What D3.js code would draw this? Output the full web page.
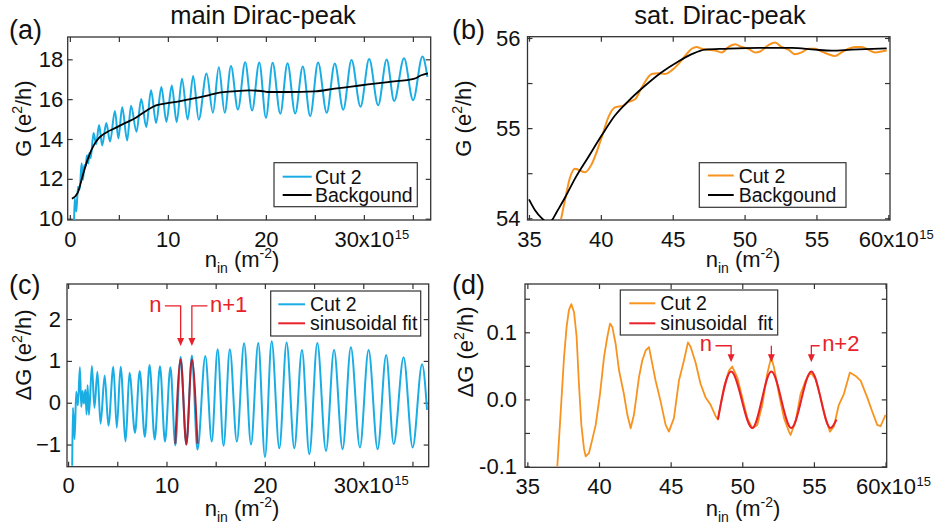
<!DOCTYPE html>
<html>
<head>
<meta charset="utf-8">
<script src="https://cdn.jsdelivr.net/npm/d3@7"></script>
<style>
  body { margin: 0; background: #fff; }
  svg { font-family: 'Liberation Sans', Arial, sans-serif; }
</style>
</head>
<body>
<svg id="fig" width="937" height="529"></svg>
<script>
// ---- data (n in units of 1e15 m^-2) ----

// main Dirac peak, cut 2: extrema of the oscillation
const cutN = [0.42, 0.49, 0.66, 0.83, 1.0, 1.2, 1.34, 1.47, 1.61, 1.75, 1.88, 1.98, 2.12, 2.42, 2.68, 2.98,
  3.3, 3.72, 4.1, 4.6, 4.95, 5.34, 5.85, 6.24, 6.8, 7.28, 7.8, 8.28, 8.8, 9.34, 9.85, 10.4, 10.9, 11.44,
  12.02, 12.58, 13.15, 13.95, 14.6, 15.2, 15.8, 16.44, 17.15, 17.89, 18.59, 19.33, 20.01, 20.69, 21.47,
  22.21, 22.99, 23.77, 24.52, 25.33, 26.21, 27.03, 27.9, 28.74, 29.66, 30.54, 31.46, 32.33, 33.09, 34.1,
  35.02, 35.98, 36.48];
const cutA_G = [9.6, 11.03, 10.36, 11.61, 11.45, 12.78, 11.95, 12.69, 12.62, 13.18, 12.77, 13.3, 13.03,
  14.3, 13.74, 14.7, 13.68, 14.8, 13.87, 15.41, 14.03, 15.59, 13.93, 15.67, 14.37, 16.01, 14.6, 16.45,
  14.81, 16.61, 14.86, 16.68, 14.85, 17.02, 14.98, 17.16, 14.97, 17.29, 15.32, 17.6, 15.32, 17.66, 15.48,
  17.85, 15.43, 17.84, 15.07, 17.83, 15.27, 17.8, 15.28, 17.64, 15.15, 17.84, 15.32, 17.79, 15.47, 17.96,
  15.62, 18.01, 15.69, 17.99, 15.91, 18.05, 15.95, 18.14, 17.12];
const cutC_dG = [-1.51, -0.12, -0.87, 0.26, -0.06, 0.85, -0.1, 0.28, -0.02, 0.31, -0.28, 0.42, -0.29,
  0.88, -0.12, 0.74, -0.5, 0.65, -0.55, 0.86, -0.6, 0.86, -0.92, 0.72, -0.72, 0.76, -0.82, 0.9, -0.88,
  0.87, -0.93, 0.85, -1.02, 1.1, -1.0, 1.13, -1.12, 1.12, -0.93, 1.28, -1.03, 1.28, -0.93, 1.42, -1.0,
  1.43, -1.3, 1.47, -1.09, 1.44, -1.09, 1.26, -1.23, 1.43, -1.15, 1.26, -1.11, 1.33, -1.07, 1.26, -1.11,
  1.14, -0.99, 1.09, -1.07, 0.92, -0.17];

const bgA_N = [0.21, 0.8, 1.3, 1.82, 2.49, 3.0, 3.68, 4.7, 5.72, 6.74, 7.77, 8.79, 9.81, 11.16, 12.53,
  13.89, 15.25, 16.61, 18.3, 19.53, 20.21, 22.26, 24.98, 27.02, 28.72, 30.42, 32.46, 35.18, 35.86, 36.54];
const bgA_G = [11.0, 11.3, 12.14, 12.98, 13.73, 14.07, 14.32, 14.57, 14.82, 15.07, 15.41, 15.69, 15.79,
  15.89, 16.03, 16.16, 16.33, 16.39, 16.44, 16.41, 16.36, 16.36, 16.39, 16.53, 16.63, 16.74, 16.86,
  17.03, 17.2, 17.3];

const fitC_N = [10.9, 11.44, 12.02, 12.58, 13.15];
const fitC_dG = [-0.98, 1.04, -1.0, 1.04, -0.98];
const peaksC = [11.44, 12.58];
const peakLabelsC = ['n', 'n+1'];

// satellite Dirac peak, cut 2
const cutB_N = [37.23, 37.5, 37.85, 38.2, 38.55, 38.9, 39.36, 40.06, 40.52, 40.98, 41.56, 41.91, 42.38,
  42.84, 43.54, 44.0, 44.46, 44.93, 45.39, 45.86, 46.32, 46.67, 47.0, 47.48, 47.94, 48.41, 48.87, 49.34,
  49.8, 50.27, 50.73, 51.08, 51.66, 52.12, 52.58, 53.05, 53.51, 53.97, 54.43, 54.9, 55.36, 55.83, 56.29,
  56.75, 57.22, 57.68, 58.15, 58.61, 59.07, 59.54, 59.89];
const cutB_G = [53.99, 54.2, 54.45, 54.55, 54.53, 54.51, 54.6, 54.9, 55.12, 55.23, 55.25, 55.29, 55.32,
  55.45, 55.6, 55.61, 55.6, 55.64, 55.71, 55.8, 55.88, 55.9, 55.88, 55.87, 55.86, 55.84, 55.9, 55.93,
  55.9, 55.88, 55.84, 55.85, 55.92, 55.95, 55.9, 55.87, 55.82, 55.84, 55.88, 55.88, 55.85, 55.82, 55.8,
  55.84, 55.88, 55.9, 55.9, 55.87, 55.84, 55.85, 55.86];

const bgB_N = [35.0, 35.42, 35.9, 36.3, 36.6, 36.93, 37.51, 38.2, 39.13, 40.06, 40.98, 41.91, 43.07,
  44.23, 45.39, 46.32, 47.25, 48.64, 50.97, 53.28, 54.9, 56.06, 57.45, 59.89];
const bgB_G = [54.21, 54.09, 54.0, 53.95, 53.98, 54.07, 54.23, 54.44, 54.68, 54.92, 55.14, 55.3, 55.47,
  55.62, 55.74, 55.82, 55.87, 55.88, 55.89, 55.89, 55.87, 55.86, 55.87, 55.885];

const cutD_N = [37.09, 37.33, 37.56, 37.74, 37.9, 38.07, 38.26, 38.44, 38.6, 38.77, 38.95, 39.07, 39.3,
  39.53, 39.77, 40.07, 40.35, 40.58, 40.77, 40.93, 41.16, 41.4, 41.74, 41.98, 42.21, 42.44, 42.79, 43.02,
  43.26, 43.49, 43.72, 43.95, 44.3, 44.65, 44.88, 45.23, 45.58, 45.93, 46.21, 46.4, 46.74, 47.09, 47.44,
  47.79, 48.14, 48.3, 48.72, 49.07, 49.3, 49.65, 50.0, 50.35, 50.7, 51.05, 51.4, 51.74, 52.02, 52.21,
  52.56, 52.91, 53.26, 53.37, 53.72, 54.07, 54.42, 54.77, 55.12, 55.47, 55.81, 56.12, 56.4, 56.74, 57.09,
  57.51, 57.91, 58.26, 58.72, 59.07, 59.42, 59.65, 60.0];
const cutD_dG = [-0.1, -0.018, 0.063, 0.108, 0.133, 0.142, 0.13, 0.093, 0.023, -0.038, -0.073, -0.085,
  -0.08, -0.06, -0.038, 0.008, 0.063, 0.093, 0.113, 0.108, 0.083, 0.043, 0.008, -0.023, -0.043, -0.023,
  0.033, 0.058, 0.073, 0.078, 0.053, 0.028, -0.003, -0.038, -0.048, -0.028, 0.028, 0.058, 0.085, 0.078,
  0.055, 0.023, 0.003, -0.008, -0.025, -0.03, 0.018, 0.043, 0.049, 0.033, 0.003, -0.028, -0.043, -0.038,
  -0.008, 0.038, 0.063, 0.048, 0.008, -0.028, -0.048, -0.053, -0.033, 0.008, 0.028, 0.04, 0.03, 0.003,
  -0.028, -0.048, -0.04, -0.008, 0.008, 0.04, 0.035, 0.028, 0.003, -0.018, -0.038, -0.04, -0.023];

const fitD_N = [48.3, 49.22, 50.7, 52.03, 53.42, 54.82, 56.16, 56.58];
const fitD_dG = [-0.03, 0.0415, -0.0425, 0.0415, -0.0425, 0.0415, -0.0425, -0.03];
const peaksD = [49.22, 52.03, 54.82];
const peakLabelsD = ['n', '', 'n+2'];

// ticks
const xTicksMain = [0, 5, 10, 15, 20, 25, 30, 35];
const xLabelsMain = {0: '0', 10: '10', 20: '20', 30: '30x10'};
const xTicksSat = [35, 40, 45, 50, 55, 60];
const xLabelsSat = {35: '35', 40: '40', 45: '45', 50: '50', 55: '55', 60: '60x10'};
const tickExponent = '15';
const yTicksA = [10, 12, 14, 16, 18];
const yTicksB = [54, 54.5, 55, 55.5, 56];
const yLabelsB = {54: '54', 55: '55', 56: '56'};
const yTicksC = [-1, 0, 1, 2];
const yTicksD = [-0.1, -0.05, 0, 0.05, 0.1, 0.15];
const yLabelsD = {'-0.1': '-0.1', '0': '0.0', '0.1': '0.1'};

// ---- drawing ----
const CYAN = '#1aade4';
const ORANGE = '#f7931e';
const RED = '#e8212a';
const DARKRED = '#b3202f';
const INK = '#111';
const FRAME = '#333';

const svg = d3.select('#fig');

function translate(x, y) {
  return `translate(${x},${y})`;
}

function lookup(map) {
  return d => {
    const key = String(+d.toFixed(3));
    return map[key] !== undefined ? map[key] : '';
  };
}

function makePanel(p) {
  const x = d3.scaleLinear().domain(p.xDomain).range([p.left, p.right]);
  const y = d3.scaleLinear().domain(p.yDomain).range([p.bottom, p.top]);
  const g = svg.append('g');

  svg.append('clipPath').attr('id', 'clip-' + p.id)
    .append('rect')
    .attr('x', p.left).attr('y', p.top)
    .attr('width', p.right - p.left).attr('height', p.bottom - p.top);

  // axes, ticks pointing inside on all four sides
  const xb = g.append('g').attr('transform', translate(0, p.bottom))
    .call(d3.axisBottom(x).tickValues(p.xTicks).tickSize(-5).tickFormat(lookup(p.xLabels)));
  const xt = g.append('g').attr('transform', translate(0, p.top))
    .call(d3.axisTop(x).tickValues(p.xTicks).tickSize(-5).tickFormat(''));
  const yl = g.append('g').attr('transform', translate(p.left, 0))
    .call(d3.axisLeft(y).tickValues(p.yTicks).tickSize(-5).tickPadding(p.yPad)
      .tickFormat(p.yLabels ? lookup(p.yLabels) : d3.format('d')));
  const yr = g.append('g').attr('transform', translate(p.right, 0))
    .call(d3.axisRight(y).tickValues(p.yTicks).tickSize(-5).tickFormat(''));

  for (const ax of [xb, xt, yl, yr]) {
    ax.select('.domain').remove();
    ax.selectAll('.tick line').attr('stroke', FRAME).attr('stroke-width', 1.2);
    ax.selectAll('text').attr('font-size', 22).attr('fill', INK).attr('font-family', null);
  }
  xb.selectAll('text').attr('y', 26.5).attr('dy', null);

  // exponent on the last labelled x tick, hung to the right of the centred "x10"
  xb.selectAll('.tick').each(function() {
    const t = d3.select(this).select('text');
    if (t.text().endsWith('x10')) {
      const w = t.node().getComputedTextLength();
      d3.select(this).append('text')
        .attr('x', w / 2 + 0.5).attr('y', 18.5)
        .attr('text-anchor', 'start')
        .attr('font-size', 13).attr('fill', INK)
        .text(tickExponent);
    }
  });

  g.append('rect')
    .attr('x', p.left).attr('y', p.top)
    .attr('width', p.right - p.left).attr('height', p.bottom - p.top)
    .attr('fill', 'none').attr('stroke', FRAME).attr('stroke-width', 1.3);

  const plot = g.append('g').attr('clip-path', `url(#clip-${p.id})`);
  for (const s of p.series) {
    const line = d3.line()
      .x(d => x(d[0]))
      .y(d => y(d[1]))
      .curve(s.curve || d3.curveLinear);
    plot.append('path')
      .datum(d3.zip(s.n, s.v))
      .attr('fill', 'none')
      .attr('stroke', s.color)
      .attr('stroke-width', s.width)
      .attr('stroke-linejoin', 'round')
      .attr('d', line);
  }

  // axis titles
  const xt2 = g.append('text')
    .attr('x', p.xTitleX).attr('y', p.xTitleY)
    .attr('text-anchor', 'middle').attr('font-size', 22).attr('fill', INK);
  xt2.append('tspan').text('n');
  xt2.append('tspan').attr('font-size', 14).attr('dy', 6).text('in');
  xt2.append('tspan').attr('dy', -6).text(' (m');
  xt2.append('tspan').attr('font-size', 14).attr('dy', -9).text('-2');
  xt2.append('tspan').attr('dy', 9).text(')');

  const yt2 = g.append('text')
    .attr('transform', translate(p.yTitleX, p.yTitleY) + ' rotate(-90)')
    .attr('text-anchor', 'middle').attr('font-size', 22).attr('fill', INK);
  yt2.append('tspan').text(p.yTitle + ' (e');
  yt2.append('tspan').attr('font-size', 14).attr('dy', -9).text('2');
  yt2.append('tspan').attr('dy', 9).text('/h)');

  // legend
  const lg = p.legend;
  g.append('rect')
    .attr('x', lg.x0).attr('y', lg.y0)
    .attr('width', lg.x1 - lg.x0).attr('height', lg.y1 - lg.y0)
    .attr('fill', '#fff').attr('stroke', FRAME).attr('stroke-width', 1.2);
  lg.rows.forEach(r => {
    g.append('line')
      .attr('x1', lg.s0).attr('x2', lg.s1).attr('y1', r.y).attr('y2', r.y)
      .attr('stroke', r.color).attr('stroke-width', 2);
    g.append('text')
      .attr('x', lg.tx).attr('y', r.y).attr('dy', '0.36em')
      .attr('font-size', 19.5).attr('fill', INK)
      .style('white-space', 'pre')
      .text(r.label);
  });

  return {x, y, g};
}

function addArrows(panel, peaks, labels, a) {
  const {x, y, g} = panel;
  peaks.forEach((n, i) => {
    const tx = x(n);
    const top = y(a.top);
    const tip = y(a.tip);
    const arm = a.arms[i];
    g.append('path')
      .attr('d', `M${tx + arm},${top}H${tx}V${tip - 7}`)
      .attr('fill', 'none').attr('stroke', RED).attr('stroke-width', 1.3);
    g.append('path')
      .attr('d', `M${tx - 3.5},${tip - 8}L${tx + 3.5},${tip - 8}L${tx},${tip}Z`)
      .attr('fill', RED);
    if (labels[i]) {
      g.append('text')
        .attr('x', tx + arm + (arm < 0 ? -3.5 : 2.5))
        .attr('y', y(a.text))
        .attr('text-anchor', arm < 0 ? 'end' : 'start')
        .attr('font-size', 22).attr('fill', RED)
        .text(labels[i]);
    }
  });
}

// (a)
makePanel({
  id: 'a', left: 67.7, right: 430.7, top: 37, bottom: 220,
  xDomain: [-0.22, 36.82], yDomain: [9.935, 19.12],
  xTicks: xTicksMain, xLabels: xLabelsMain, yTicks: yTicksA, yPad: 4.5,
  xTitleX: 242, xTitleY: 267, yTitleX: 31, yTitleY: 118.5, yTitle: 'G',
  series: [
    {n: cutN, v: cutA_G, color: CYAN, width: 2, curve: d3.curveMonotoneX},
    {n: bgA_N, v: bgA_G, color: '#000', width: 1.8, curve: d3.curveMonotoneX}
  ],
  legend: {x0: 274, x1: 417.3, y0: 162.7, y1: 206.7, s0: 282.7, s1: 311.7, tx: 315,
    rows: [{label: 'Cut 2', color: CYAN, y: 176.7}, {label: 'Backgound', color: '#000', y: 195}]}
});

// (b)
makePanel({
  id: 'b', left: 527.5, right: 890, top: 36.7, bottom: 220,
  xDomain: [34.896, 60.118], yDomain: [53.981, 56.014],
  xTicks: xTicksSat, xLabels: xLabelsSat, yTicks: yTicksB, yLabels: yLabelsB, yPad: 7,
  xTitleX: 743, xTitleY: 267, yTitleX: 471, yTitleY: 118.5, yTitle: 'G',
  series: [
    {n: cutB_N, v: cutB_G, color: ORANGE, width: 2, curve: d3.curveMonotoneX},
    {n: bgB_N, v: bgB_G, color: '#000', width: 1.8, curve: d3.curveMonotoneX}
  ],
  legend: {x0: 699.3, x1: 846, y0: 162.7, y1: 207.3, s0: 708, s1: 733.7, tx: 738.7,
    rows: [{label: 'Cut 2', color: ORANGE, y: 175.5}, {label: 'Backgound', color: '#000', y: 195}]}
});

// (c)
const pc = makePanel({
  id: 'c', left: 67, right: 428.7, top: 284, bottom: 466.7,
  xDomain: [-0.11, 36.65], yDomain: [-1.53, 2.84],
  xTicks: xTicksMain, xLabels: xLabelsMain, yTicks: yTicksC, yPad: 6,
  xTitleX: 242, xTitleY: 516, yTitleX: 31, yTitleY: 355, yTitle: '\u0394G',
  series: [
    {n: cutN, v: cutC_dG, color: CYAN, width: 2, curve: d3.curveMonotoneX},
    {n: fitC_N, v: fitC_dG, color: DARKRED, width: 2, curve: d3.curveMonotoneX}
  ],
  legend: {x0: 270.7, x1: 420.7, y0: 291, y1: 336, s0: 278.3, s1: 305, tx: 310,
    rows: [{label: 'Cut 2', color: CYAN, y: 304.3}, {label: 'sinusoidal fit', color: RED, y: 323.3}]}
});
addArrows(pc, peaksC, peakLabelsC, {top: 2.317, tip: 1.355, text: 2.16, arms: [-15.7, 15.6]});

// (d)
const pd = makePanel({
  id: 'd', left: 525, right: 886.7, top: 284, bottom: 467.3,
  xDomain: [34.836, 60.08], yDomain: [-0.1012, 0.172],
  xTicks: xTicksSat, xLabels: xLabelsSat, yTicks: yTicksD, yLabels: yLabelsD, yPad: 8,
  xTitleX: 743, xTitleY: 516, yTitleX: 473, yTitleY: 352, yTitle: '\u0394G',
  series: [
    {n: cutD_N, v: cutD_dG, color: ORANGE, width: 1.8},
    {n: fitD_N, v: fitD_dG, color: RED, width: 2, curve: d3.curveMonotoneX}
  ],
  legend: {x0: 620.3, x1: 777.7, y0: 290, y1: 335, s0: 629.3, s1: 655.3, tx: 660.3,
    rows: [{label: 'Cut 2', color: ORANGE, y: 303.3}, {label: 'sinusoidal  fit', color: RED, y: 323.3}]}
});
addArrows(pd, peaksD, peakLabelsD, {top: 0.080, tip: 0.0553, text: 0.0726, arms: [-15.6, 0, 8.3]});

// titles and panel letters
svg.append('text').attr('x', 263).attr('y', 23.5).attr('text-anchor', 'middle')
  .attr('font-size', 25.5).attr('fill', INK).text('main Dirac-peak');
svg.append('text').attr('x', 720).attr('y', 23.5).attr('text-anchor', 'middle')
  .attr('font-size', 25.5).attr('fill', INK).text('sat. Dirac-peak');
[['(a)', 9, 39], ['(b)', 452, 39], ['(c)', 9, 294], ['(d)', 452, 294]].forEach(([t, px, py]) => {
  svg.append('text').attr('x', px).attr('y', py)
    .attr('font-size', 27).attr('fill', INK).text(t);
});
</script>
</body>
</html>
